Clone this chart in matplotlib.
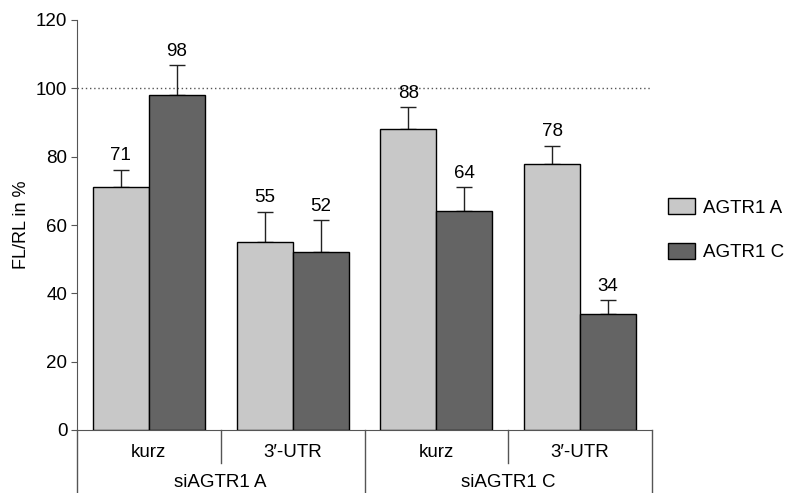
import matplotlib.pyplot as plt
import numpy as np

plt.rcParams['font.family'] = ['Liberation Sans', 'DejaVu Sans']

# data
groups = ['siAGTR1 A', 'siAGTR1 C']
categories = ['kurz', "3\u2032-UTR", 'kurz', "3\u2032-UTR"]
series = ['AGTR1 A', 'AGTR1 C']
vals_a = [71, 55, 88, 78]
vals_c = [98, 52, 64, 34]
err_a = [5.2, 8.8, 6.4, 5.2]
err_c = [8.7, 9.4, 7.0, 4.0]
labels_a = ['71', '55', '88', '78']
labels_c = ['98', '52', '64', '34']

fs = 13.5

fig = plt.figure(figsize=(7.89, 4.93), dpi=100)
ax = fig.add_axes([77 / 789, 63 / 493, 575 / 789, 410 / 493])

x = np.arange(len(categories))
w = 0.39
light = '#c8c8c8'
dark = '#646464'

ax.bar(x - w / 2, vals_a, w, color=light, edgecolor='black', linewidth=1,
       label=series[0], zorder=3)
ax.bar(x + w / 2, vals_c, w, color=dark, edgecolor='black', linewidth=1,
       label=series[1], zorder=3)

# upper error bars only
ax.errorbar(x - w / 2, vals_a, yerr=[np.zeros(4), err_a], fmt='none',
            ecolor='#222222', elinewidth=1, capsize=5.5, capthick=1, zorder=2)
ax.errorbar(x + w / 2, vals_c, yerr=[np.zeros(4), err_c], fmt='none',
            ecolor='#222222', elinewidth=1, capsize=5.5, capthick=1, zorder=2)

for i in range(len(categories)):
    ax.annotate(labels_a[i], (x[i] - w / 2, vals_a[i] + err_a[i]),
                xytext=(0, 4), textcoords='offset points',
                ha='center', va='bottom', fontsize=fs)
    ax.annotate(labels_c[i], (x[i] + w / 2, vals_c[i] + err_c[i]),
                xytext=(0, 4), textcoords='offset points',
                ha='center', va='bottom', fontsize=fs)

# dotted 100 % reference line
ax.axhline(100, color='#555555', linestyle=(0, (1, 2)), linewidth=1, zorder=1)

ax.set_xlim(-0.5, 3.5)
ax.set_ylim(0, 120)
ax.set_yticks(range(0, 121, 20))
ax.tick_params(axis='y', labelsize=fs, direction='out', length=4,
               color='#555555', pad=3)
ax.set_xticks([])
ax.set_ylabel('FL/RL in %', fontsize=fs - 0.5, labelpad=4)

for s in ['top', 'right']:
    ax.spines[s].set_visible(False)
ax.spines['left'].set_color('#555555')
ax.spines['bottom'].set_color('#555555')

# two-level category axis below the plot
tr = ax.get_xaxis_transform()
lc = '#555555'
for xb in [-0.5, 1.5, 3.5]:
    ax.plot([xb, xb], [0, -0.154], transform=tr, color=lc, lw=1, clip_on=False)
for xb in [0.5, 2.5]:
    ax.plot([xb, xb], [0, -0.08], transform=tr, color=lc, lw=1, clip_on=False)
for i, c in enumerate(categories):
    ax.text(x[i], -0.056, c, transform=tr, ha='center', va='center',
            fontsize=fs)
for j, g in enumerate(groups):
    ax.text(0.5 + 2 * j, -0.127, g, transform=tr, ha='center', va='center',
            fontsize=fs)

fig.legend(loc='upper left', bbox_to_anchor=(668 / 789, (493 - 198) / 493),
           frameon=False, fontsize=fs, borderpad=0, borderaxespad=0,
           handlelength=1.45, handleheight=0.95, labelspacing=1.4,
           handletextpad=0.4)

fig.savefig('out.png', dpi=100)
